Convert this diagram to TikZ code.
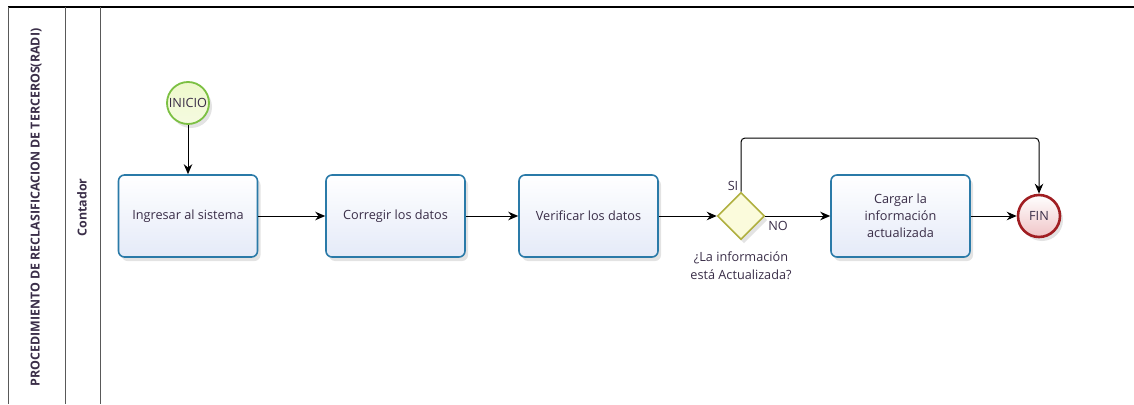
\documentclass[tikz,border=0pt]{standalone}
\usepackage{fontspec}
\setmainfont{Open Sans}
\usetikzlibrary{arrows.meta,shapes.geometric,shadows}
\definecolor{taskblue}{HTML}{2A7AA8}
\definecolor{taskfill}{HTML}{E4EAF8}
\definecolor{textc}{HTML}{3A2E48}
\definecolor{gwline}{HTML}{B0B040}
\definecolor{gwfill}{HTML}{FBFBDC}
\definecolor{startline}{HTML}{7CC043}
\definecolor{startfill}{HTML}{EEF8CC}
\definecolor{endline}{HTML}{A01E22}
\definecolor{endfill}{HTML}{F0C4C6}
\begin{document}
\begin{tikzpicture}[x=1pt,y=-1pt,
  every node/.style={text=textc},
  shad/.style={drop shadow={opacity=0.22,shadow xshift=3pt,shadow yshift=-4pt}},
  task/.style={draw=taskblue, line width=1.6pt, rounded corners=6pt,
    minimum width=139pt, minimum height=82pt, top color=white, bottom color=taskfill,
    align=center, font=\fontsize{12.7}{17}\selectfont, shad},
  gateway/.style={diamond, aspect=1, draw=gwline, line width=1.6pt, fill=gwfill,
    minimum width=47pt, minimum height=47pt, inner sep=0pt, shad},
  startev/.style={circle, draw=startline, line width=1.8pt, top color=startfill, bottom color=startfill!60!white,
    minimum size=42pt, inner sep=0pt, font=\fontsize{12.7}{15}\selectfont, shad},
  endev/.style={circle, draw=endline, line width=2.6pt, top color=white, bottom color=endfill,
    minimum size=42pt, inner sep=0pt, font=\fontsize{12.7}{15}\selectfont, shad},
  flow/.style={draw=black, line width=1pt, -{Stealth[length=10pt,width=8.5pt]}},
  lbl/.style={font=\fontsize{12.7}{15}\selectfont, inner sep=0pt},
  lane/.style={draw=black!65, line width=1pt},
  title/.style={font=\bfseries\fontsize{12.4}{14}\selectfont, rotate=90, inner sep=0pt}
]
\useasboundingbox (0,0) rectangle (1134,404);
% pool frame
\draw[line width=2pt] (8,7) -- (1134,7);
\draw[lane] (8,7) -- (8,404);
\draw[lane] (65,7) -- (65,404);
\draw[lane] (100,7) -- (100,404);
\node[title] (pool) at (36,207.5) {PROCEDIMIENTO DE RECLASIFICACION DE TERCEROS(RADI)};
\node[title] (lanename) at (82,207.5) {Contador};

% nodes
\node[startev] (ini) at (188,103) {INICIO};
\node[task] (t1) at (188,216) {Ingresar al sistema};
\node[task] (t2) at (395.5,216) {Corregir los datos};
\node[task] (t3) at (588.5,216) {Verificar los datos};
\node[gateway] (gw) at (741,216) {};
\node[task] (t4) at (900.5,216) {Cargar la\\información\\actualizada};
\node[endev] (fin) at (1039,216) {FIN};

\node[lbl] (si) at (733,186) {SI};
\node[lbl] (no) at (778,226) {NO};
\node[lbl, align=center, font=\fontsize{12.7}{18}\selectfont] (q) at (741,266) {¿La información\\está Actualizada?};

\coordinate (toprow) at (0,138);

% flows
\draw[flow] (ini) -- (t1);
\draw[flow] (t1) -- (t2);
\draw[flow] (t2) -- (t3);
\draw[flow] (t3) -- (gw);
\draw[flow] (gw) -- (t4);
\draw[flow] (t4) -- (fin);
\draw[flow, rounded corners=4pt] (gw.north) -- (gw.north |- toprow) -| (fin.north);
\end{tikzpicture}
\end{document}
